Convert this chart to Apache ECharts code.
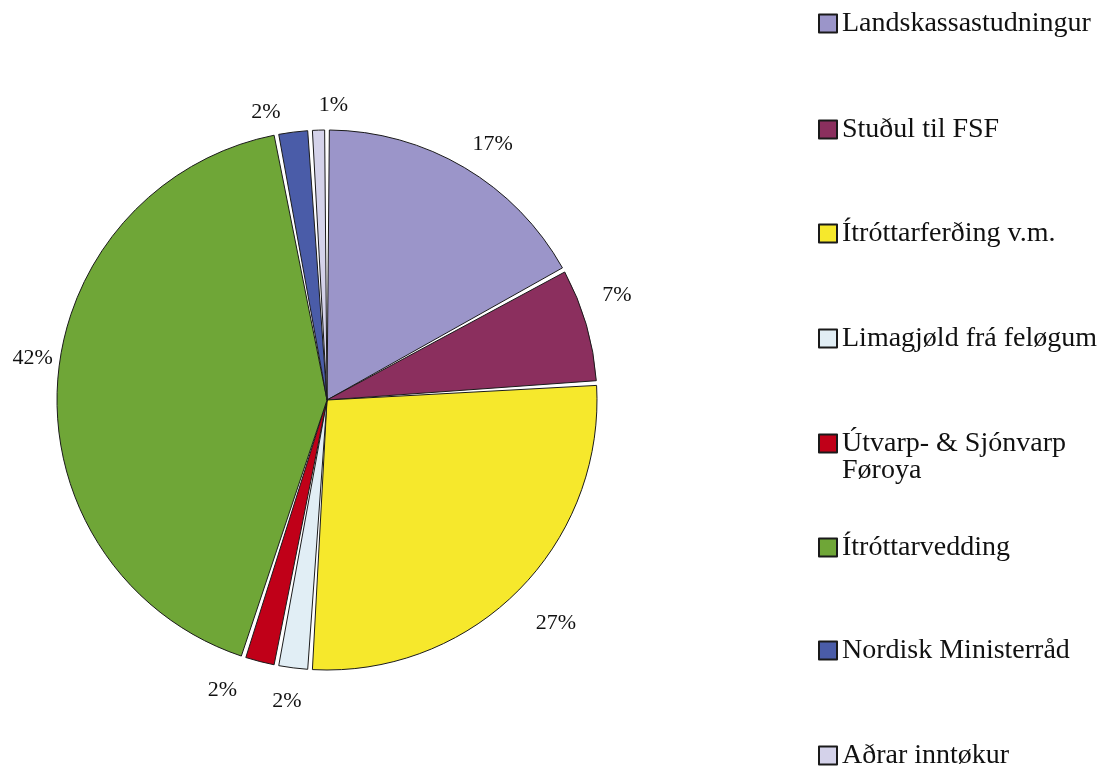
<!DOCTYPE html>
<html><head><meta charset="utf-8">
<script src="https://cdn.jsdelivr.net/npm/echarts@6/dist/echarts.min.js"></script>
<style>html,body{margin:0;padding:0;background:#fff}#c{width:1109px;height:766px}</style>
</head><body><div id="c"></div>
<script>
const categories = ['Landskassastudningur','Stuðul til FSF','Ítróttarferðing v.m.','Limagjøld frá feløgum','Útvarp- & Sjónvarp Føroya','Ítróttarvedding','Nordisk Ministerråd','Aðrar inntøkur'];
const values = [17, 7, 27, 2, 2, 42, 2, 1];
const colors = ['#9B95C9','#8B2F5E','#F6E82C','#E1EEF5','#C00018','#6FA637','#4A5CA8','#D4D2EA'];

// layout / style settings (not data)
const legendCenters = [23, 129, 233, 338, 443, 547, 650, 755];
const labelNudges = [[11, 6], [-2, -20], [14, 8], [-2, 0], [-29, -4], [9, -23], [-23, 14], [16, 9]];

const font = 'Liberation Serif, Times New Roman, serif';
const LH = 27;
const legends = categories.map((name, i) => {
  const twoLine = name.indexOf('Føroya') >= 0;
  return {
    data: [name],
    orient: 'vertical',
    left: 818,
    top: twoLine ? legendCenters[i] - 1.5 * LH : legendCenters[i] - LH / 2,
    padding: 0,
    icon: 'rect',
    itemWidth: 18,
    itemHeight: 18,
    selectedMode: false,
    formatter: twoLine ? () => '\u00a0\nÚtvarp- & Sjónvarp\nFøroya' : '{name}',
    textStyle: {
      fontFamily: font, fontSize: 28, color: '#111',
      lineHeight: LH
    }
  };
});

const chart = echarts.init(document.getElementById('c'));
chart.setOption({
  animation: false,
  color: colors,
  legend: legends,
  series: [{
    type: 'pie',
    center: [327, 400],
    radius: [0, 270],
    startAngle: 90,
    clockwise: true,
    padAngle: 1,
    avoidLabelOverlap: false,
    itemStyle: { borderColor: '#1a1a1a', borderWidth: 1 },
    label: {
      show: true, position: 'outside',
      fontFamily: font, fontSize: 22, color: '#111',
      distanceToLabelLine: 0,
      formatter: p => Math.round(p.percent) + '%'
    },
    labelLine: { show: false, length: 34, length2: 0 },
    labelLayout: (p) => ({
      align: 'center', hideOverlap: false, moveOverlap: false,
      dx: labelNudges[p.dataIndex][0], dy: labelNudges[p.dataIndex][1]
    }),
    emphasis: { disabled: true },
    data: categories.map((n, i) => ({ name: n, value: values[i] }))
  }]
});
</script></body></html>
